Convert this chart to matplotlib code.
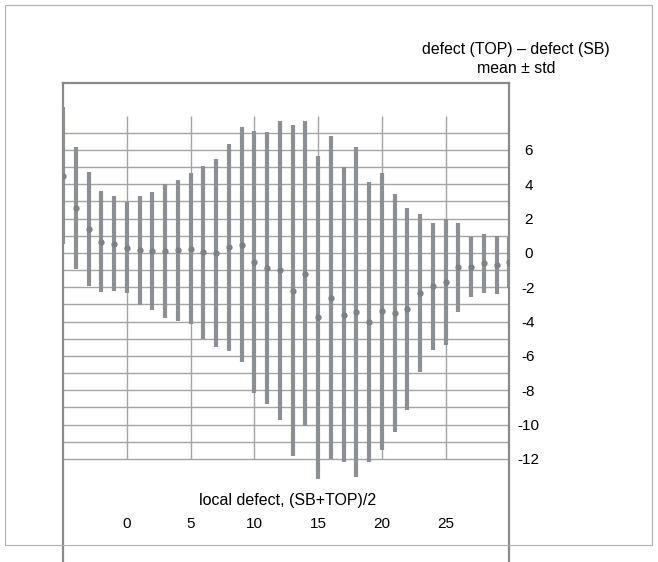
import matplotlib
matplotlib.use('Agg')
import matplotlib.pyplot as plt
import numpy as np

# --- data ---
x = np.arange(-5, 31)
mean = [4.5, 2.6, 1.4, 0.65, 0.55, 0.3, 0.15, 0.12, 0.12, 0.15,
        0.26, 0.03, 0.0, 0.32, 0.49, -0.52, -0.87, -1.0, -2.2, -1.2,
        -3.75, -2.6, -3.6, -3.43, -4.0, -3.4, -3.49, -3.26, -2.33, -1.95,
        -1.69, -0.84, -0.81, -0.61, -0.7, -0.55]
std = [4.0, 3.55, 3.3, 2.95, 2.75, 2.65, 3.17, 3.43, 3.9, 4.1,
       4.39, 5.03, 5.47, 6.02, 6.83, 7.62, 7.9, 8.7, 9.65, 8.9,
       9.4, 9.4, 8.6, 9.6, 8.15, 8.05, 6.95, 5.9, 4.6, 3.7,
       3.67, 2.6, 1.75, 1.72, 1.69, 1.5]

x_ticks = [0, 5, 10, 15, 20, 25]
y_ticks = [6, 4, 2, 0, -2, -4, -6, -8, -10, -12]
h_grid = np.arange(-12, 8)

title = "defect (TOP) \u2013 defect (SB)\nmean \u00b1 std"
xlabel = "local defect, (SB+TOP)/2"

plt.rcParams['font.family'] = ['Liberation Sans', 'DejaVu Sans']

fig = plt.figure(figsize=(6.58, 5.62), dpi=100)
ax = fig.add_axes([0.0957, 0.0, 0.6778, 0.8523])
ax.set_xlim(-5.02, 29.96)
ax.set_ylim(-18.0, 9.9)

grid_c = '#a4a4a4'
ax.hlines(h_grid, -5.02, 29.96, color=grid_c, lw=1.0, zorder=1)
ax.vlines(x_ticks, -12, 8, color=grid_c, lw=1.0, zorder=1)

ax.errorbar(x, mean, yerr=std, fmt='o', ms=3.5, color='#8c8f93',
            mfc='#7d8085', mec='#7d8085', elinewidth=3.0, capsize=0, zorder=3)

for s in ['left', 'right', 'top']:
    ax.spines[s].set_color('#8a8a8a')
    ax.spines[s].set_linewidth(1.6)
ax.spines['bottom'].set_visible(False)

ax.set_xticks([])
ax.yaxis.tick_right()
ax.set_yticks(y_ticks, [str(v) for v in y_ticks])
ax.tick_params(axis='y', length=0, pad=14, labelsize=11)
for lab in ax.get_yticklabels():
    lab.set_ha('center')

for t in x_ticks:
    ax.text(t, -15.8, str(t), ha='center', va='center', fontsize=11)
ax.text(12.6, -14.4, xlabel, ha='center', va='center', fontsize=11.5)

fig.text(0.784, 0.8955, title, ha='center', va='center', fontsize=11.4,
         linespacing=1.35)

fig.patches.append(plt.Rectangle((5 / 658, 17 / 562), 647 / 658, 540 / 562,
                                 transform=fig.transFigure, fill=False,
                                 ec='#b0b0b0', lw=0.8))

fig.savefig('out.png', dpi=100)
